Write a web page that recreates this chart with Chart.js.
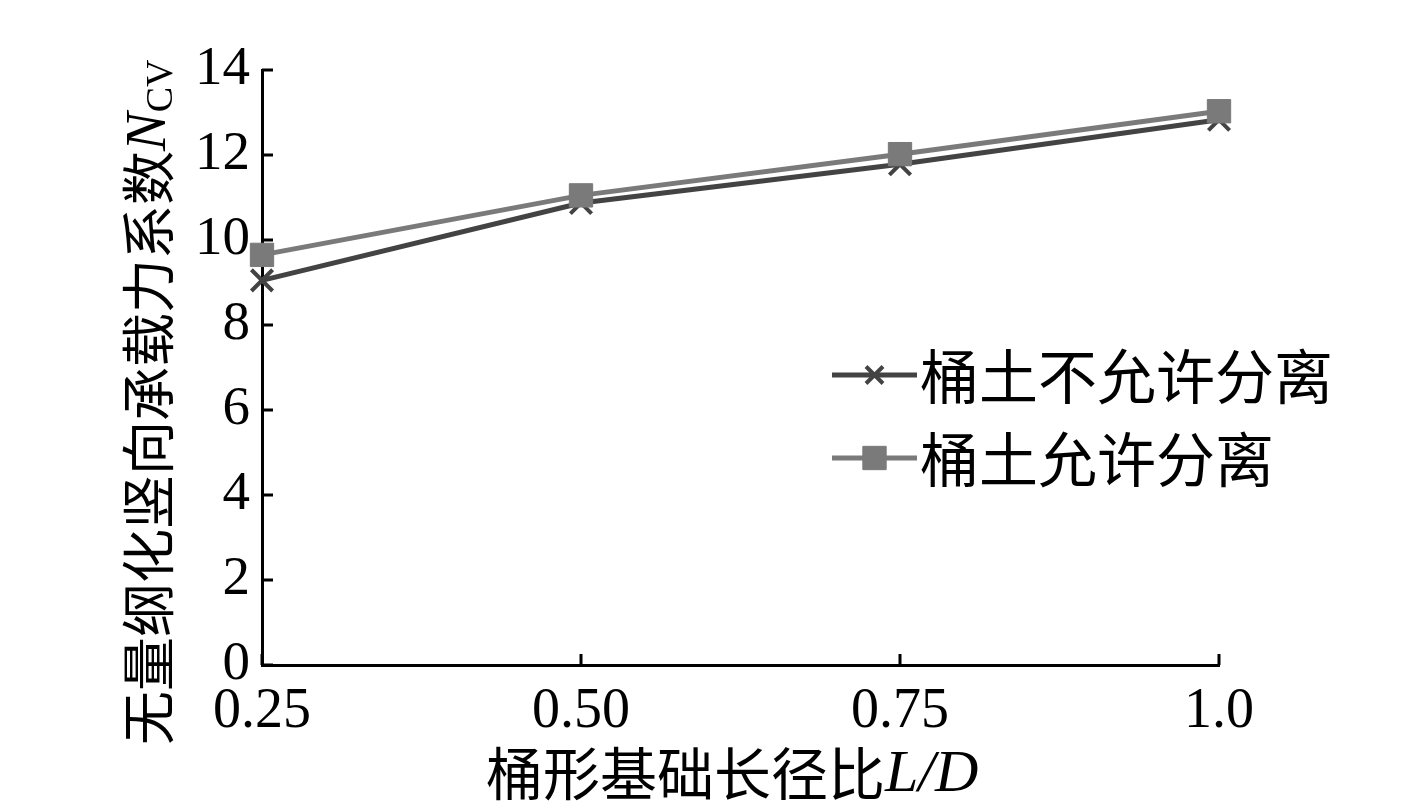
<!DOCTYPE html>
<html><head><meta charset="utf-8">
<script src="https://cdn.jsdelivr.net/npm/chart.js@4"></script>
<style>html,body{margin:0;padding:0;background:#fff;} #wrap{width:1417px;height:805px;position:relative}</style>
</head><body><div id="wrap"><canvas id="c" width="1417" height="805"></canvas></div>
<script>
const categories = ['0.25', '0.50', '0.75', '1.0'];
const seriesNames = ['桶土不允许分离', '桶土允许分离'];
const notSeparated = [9.05, 10.87, 11.78, 12.83];
const separated = [9.65, 11.05, 12.02, 13.03];
const yTickValues = [0, 2, 4, 6, 8, 10, 12, 14];
const xTitleMain = '桶形基础长径比';
const xTitleItalic = 'L/D';
const yTitleMain = '无量纲化竖向承载力系数';
const yTitleItalic = 'N';
const yTitleSub = 'CV';

const SERIF = '"Liberation Serif", "Times New Roman", serif';
const CJK = '"Noto Sans CJK SC", sans-serif';

const innerTicks = {
  id: 'innerTicks',
  afterDraw(chart) {
    const {ctx, chartArea: a, scales: {x, y}} = chart;
    ctx.save();
    ctx.strokeStyle = '#000';
    ctx.lineWidth = 3;
    ctx.beginPath();
    y.ticks.forEach(t => {
      const py = y.getPixelForValue(t.value);
      ctx.moveTo(a.left, py); ctx.lineTo(a.left + 11, py);
    });
    x.ticks.forEach((t, i) => {
      const px = x.getPixelForTick(i);
      ctx.moveTo(px, a.bottom); ctx.lineTo(px, a.bottom - 11);
    });
    ctx.stroke();
    ctx.restore();
  }
};

const axisTitles = {
  id: 'axisTitles',
  afterDraw(chart) {
    const {ctx, chartArea: a} = chart;
    ctx.save();
    ctx.fillStyle = '#000';
    ctx.textBaseline = 'middle';
    ctx.textAlign = 'left';
    // x title
    let x0 = a.left + 224, yy = a.bottom + 108;
    ctx.font = '57px ' + CJK;
    ctx.fillText(xTitleMain, x0, yy);
    x0 += ctx.measureText(xTitleMain).width;
    ctx.font = 'italic 60px ' + SERIF;
    ctx.fillText(xTitleItalic, x0, yy + 2);
    // y title
    ctx.translate(a.left - 114, a.bottom + 80);
    ctx.rotate(-Math.PI / 2);
    ctx.font = '54px ' + CJK;
    ctx.fillText(yTitleMain, 0, 0);
    let tx = ctx.measureText(yTitleMain).width;
    ctx.font = 'italic 58px ' + SERIF;
    ctx.fillText(yTitleItalic, tx, 2);
    tx += ctx.measureText(yTitleItalic).width;
    ctx.font = '38px ' + SERIF;
    ctx.fillText(yTitleSub, tx, 14);
    ctx.restore();
  }
};

const customLegend = {
  id: 'customLegend',
  afterDraw(chart) {
    const {ctx, chartArea: a} = chart;
    ctx.save();
    chart.data.datasets.forEach((ds, i) => {
      const yy = a.top + 305 + i * 83;
      const x1 = 832, x2 = 917;
      ctx.strokeStyle = ds.borderColor;
      ctx.lineWidth = 5;
      ctx.beginPath(); ctx.moveTo(x1, yy); ctx.lineTo(x2, yy); ctx.stroke();
      ctx.fillStyle = ds.pointBackgroundColor;
      ctx.strokeStyle = ds.pointBorderColor;
      ctx.lineWidth = ds.pointBorderWidth;
      Chart.helpers.drawPoint(ctx, {pointStyle: ds.pointStyle, radius: ds.legendRadius, rotation: 0, borderWidth: ds.pointBorderWidth}, (x1 + x2) / 2, yy);
      ctx.fillStyle = '#000';
      ctx.font = '59px ' + CJK;
      ctx.textBaseline = 'middle';
      ctx.textAlign = 'left';
      ctx.fillText(ds.label, 920, yy + 2);
    });
    ctx.restore();
  }
};

new Chart(document.getElementById('c'), {
  type: 'line',
  data: {
    labels: categories,
    datasets: [
      {
        label: seriesNames[0], data: notSeparated,
        borderColor: '#434343', backgroundColor: '#434343',
        pointBackgroundColor: '#434343', pointBorderColor: '#434343',
        borderWidth: 5, pointStyle: 'crossRot', pointRadius: 15, pointBorderWidth: 4,
        legendRadius: 12, tension: 0, clip: false, order: 1
      },
      {
        label: seriesNames[1], data: separated,
        borderColor: '#7a7a7a', backgroundColor: '#7a7a7a',
        pointBackgroundColor: '#7a7a7a', pointBorderColor: '#7a7a7a',
        borderWidth: 5, pointStyle: 'rect', pointRadius: 16.5, pointBorderWidth: 1,
        legendRadius: 16.5, tension: 0, clip: false, order: 0
      }
    ]
  },
  options: {
    responsive: false,
    animation: false,
    devicePixelRatio: 1,
    layout: {padding: {left: 0, top: 70, right: 198, bottom: 0}},
    plugins: {legend: {display: false}, tooltip: {enabled: false}, title: {display: false}},
    scales: {
      x: {
        type: 'category', offset: false,
        grid: {display: false, drawTicks: false},
        border: {display: true, color: '#000', width: 3},
        ticks: {color: '#000', font: {family: SERIF, size: 56}, padding: 14, maxRotation: 0, autoSkip: false},
        afterFit(s) { s.height = 140; }
      },
      y: {
        min: 0, max: 14,
        afterBuildTicks(s) { s.ticks = yTickValues.map(v => ({value: v})); },
        grid: {display: false, drawTicks: false},
        border: {display: true, color: '#000', width: 3},
        ticks: {color: '#000', font: {family: SERIF, size: 55}, padding: 12},
        afterFit(s) { s.width = 262; }
      }
    }
  },
  plugins: [innerTicks, axisTitles, customLegend]
});
</script>
</body></html>
